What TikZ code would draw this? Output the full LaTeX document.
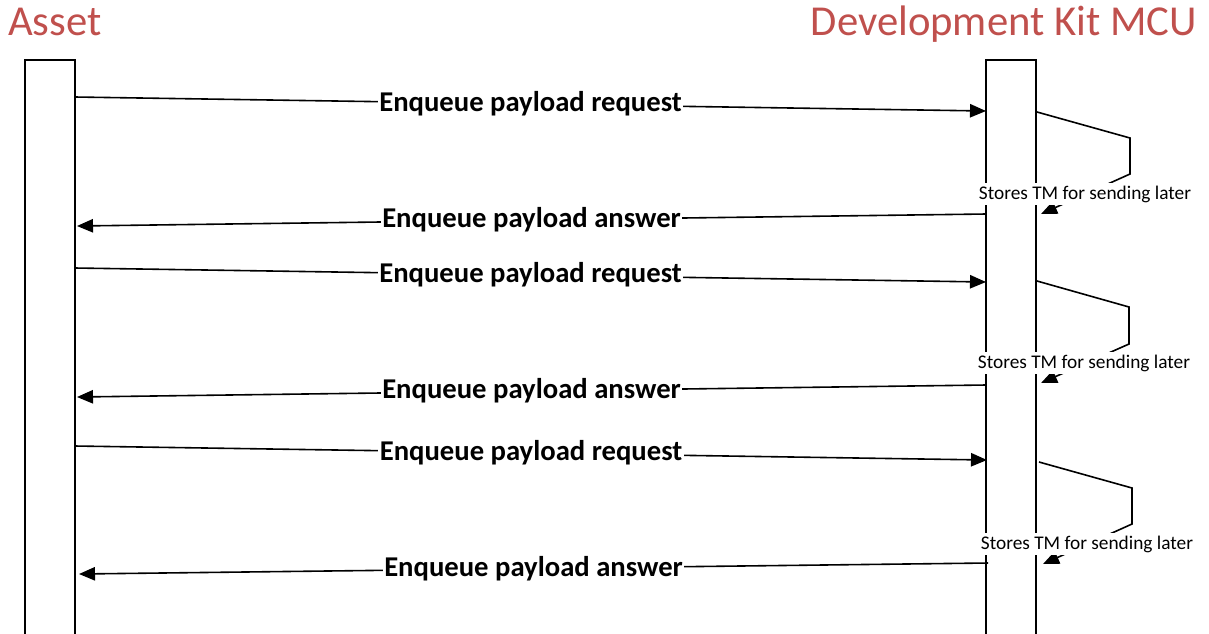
\documentclass[tikz,border=0pt]{standalone}
\usepackage{fontspec}
\setmainfont{Carlito}
\usepackage{tikz}
\usetikzlibrary{arrows.meta}
\definecolor{actor}{HTML}{C0504D}
\tikzset{
  life/.style={draw=black, line width=1.2pt, fill=white, inner sep=0pt, outer sep=0pt,
    minimum width=37.5pt, minimum height=432pt},
  actorlab/.style={text=actor, font=\fontsize{32}{36}\selectfont, inner sep=0pt},
  msg/.style={draw=black, line width=1.2pt, -{Triangle[length=12pt,width=10pt]}},
  msglab/.style={fill=white, font=\bfseries\fontsize{21.5}{24}\selectfont, inner sep=1pt},
  note/.style={fill=white, font=\fontsize{14.5}{16}\selectfont, inner sep=2pt}
}

\begin{document}
\begin{tikzpicture}[x=0.75pt,y=-0.75pt]
  \useasboundingbox (0,0) rectangle (1209,633);
  % lifelines
  \node[life] (asset) at (50,348) {};
  \node[life] (mcu) at (1011,348) {};
  \node[actorlab,anchor=base west] (assetlab) at (8,35) {Asset};
  \node[actorlab,anchor=base east] (mculab) at (1197,35) {Development Kit MCU};

  % self calls on the MCU
  \coordinate (l1a) at (1037,112); \coordinate (l1b) at (1130,138);
  \coordinate (l1c) at (1130,174); \coordinate (l1d) at (1041,214);
  \coordinate (l2a) at (1037,281); \coordinate (l2b) at (1129,307);
  \coordinate (l2c) at (1129,344); \coordinate (l2d) at (1041,383);
  \coordinate (l3a) at (1039,462); \coordinate (l3b) at (1132,488);
  \coordinate (l3c) at (1132,524); \coordinate (l3d) at (1043,564);
  \foreach \i in {1,2,3}
    \draw[msg] (l\i a) -- (l\i b) -- (l\i c) -- (l\i d);
  \node[note] (store1) at (1085,194) {Stores TM for sending later};
  \node[note] (store2) at (1084,363) {Stores TM for sending later};
  \node[note] (store3) at (1087,544) {Stores TM for sending later};

  % requests and answers
  \coordinate (q1a) at (75,97);  \coordinate (q1b) at (986,111);
  \coordinate (a1a) at (986,214); \coordinate (a1b) at (77,226);
  \coordinate (q2a) at (75,268); \coordinate (q2b) at (986,282);
  \coordinate (a2a) at (986,385); \coordinate (a2b) at (77,397);
  \coordinate (q3a) at (75,446); \coordinate (q3b) at (987,460);
  \coordinate (a3a) at (988,563); \coordinate (a3b) at (79,574);
  \foreach \i in {1,2,3}{
    \draw[msg] (q\i a) -- node[msglab] {Enqueue payload request} (q\i b);
    \draw[msg] (a\i a) -- node[msglab] {Enqueue payload answer} (a\i b);
  }
\end{tikzpicture}
\end{document}
